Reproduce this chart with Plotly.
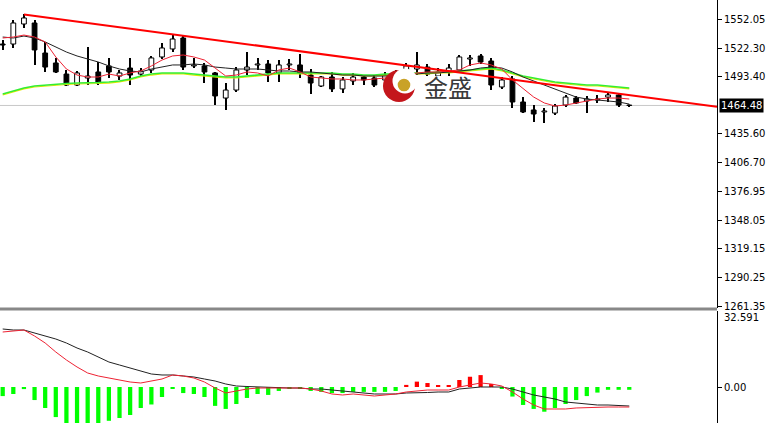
import plotly.graph_objects as go

W, H = 766, 423

# ---------------- data ----------------
open_ = [1526.7, 1526.7, 1547.0, 1548.0, 1517.6, 1507.5, 1496.3, 1485.2, 1492.3, 1498.4,
         1504.5, 1494.3, 1502.4, 1496.3, 1500.4, 1513.6, 1521.7, 1532.8, 1504.5, 1504.5,
         1497.4, 1472.0, 1480.1, 1500.4, 1505.5, 1506.5, 1497.4, 1505.5, 1505.5, 1495.3,
         1484.2, 1493.3, 1481.2, 1489.3, 1493.3, 1492.3, 1490.3, 1496.3, 1498.4, 1501.4,
         1503.4, 1494.3, 1498.4, 1500.4, 1511.5, 1514.6, 1509.5, 1483.2, 1491.3, 1468.0,
         1459.9, 1457.9, 1456.8, 1464.9, 1472.0, 1469.0, 1470.0, 1473.0, 1475.1, 1464.9]
high = [1530.8, 1551.0, 1557.1, 1551.0, 1528.8, 1512.6, 1500.4, 1499.4, 1523.7, 1508.5,
        1512.6, 1500.4, 1512.6, 1502.4, 1514.6, 1527.7, 1535.8, 1535.8, 1512.6, 1507.5,
        1498.4, 1487.2, 1503.4, 1518.6, 1512.6, 1510.5, 1510.5, 1511.5, 1516.6, 1501.4,
        1494.3, 1498.4, 1493.3, 1497.4, 1494.3, 1495.3, 1498.4, 1500.4, 1507.5, 1518.6,
        1506.5, 1502.4, 1506.5, 1515.6, 1515.6, 1516.6, 1512.6, 1493.3, 1494.3, 1473.0,
        1464.9, 1461.9, 1465.9, 1475.1, 1474.1, 1474.1, 1475.1, 1478.1, 1477.1, 1465.4]
low = [1520.7, 1522.7, 1542.9, 1505.5, 1498.4, 1497.4, 1484.2, 1484.2, 1485.2, 1485.2,
       1492.3, 1490.3, 1485.2, 1494.3, 1497.4, 1511.5, 1518.6, 1500.4, 1502.4, 1487.2,
       1464.9, 1459.9, 1478.1, 1495.3, 1500.4, 1488.2, 1488.2, 1500.4, 1492.3, 1476.1,
       1483.2, 1478.1, 1477.1, 1485.2, 1485.2, 1483.2, 1486.2, 1488.2, 1494.3, 1495.3,
       1492.3, 1490.3, 1494.3, 1498.4, 1504.5, 1506.5, 1480.1, 1481.2, 1461.9, 1456.8,
       1447.7, 1446.7, 1454.8, 1462.9, 1465.9, 1456.8, 1467.0, 1468.0, 1462.9, 1463.9]
close = [1525.7, 1548.0, 1553.1, 1520.7, 1503.4, 1498.4, 1485.2, 1497.4, 1494.3, 1487.2,
         1498.4, 1497.4, 1495.3, 1499.4, 1512.6, 1522.7, 1531.8, 1503.4, 1505.5, 1498.4,
         1474.1, 1480.1, 1500.4, 1503.4, 1506.5, 1497.4, 1505.5, 1506.5, 1497.4, 1487.2,
         1493.3, 1481.2, 1490.3, 1493.3, 1490.3, 1485.2, 1495.3, 1492.3, 1504.5, 1505.5,
         1496.3, 1498.4, 1502.4, 1513.6, 1512.6, 1508.5, 1485.2, 1490.3, 1468.0, 1457.9,
         1455.8, 1458.9, 1463.9, 1473.0, 1467.0, 1471.0, 1471.0, 1475.1, 1464.9, 1464.48]

ma_fast = [1532.8, 1533.8, 1535.8, 1533.8, 1528.8, 1513.6, 1501.4, 1495.3, 1493.3, 1493.3,
           1496.3, 1494.3, 1497.4, 1499.4, 1504.5, 1510.5, 1514.6, 1515.6, 1513.6, 1510.5,
           1502.4, 1494.3, 1495.3, 1498.4, 1497.4, 1494.3, 1500.4, 1502.4, 1498.4, 1493.3,
           1492.3, 1491.3, 1491.3, 1490.3, 1490.3, 1491.3, 1492.3, 1493.3, 1495.3, 1497.4,
           1498.4, 1498.4, 1499.4, 1500.4, 1505.5, 1507.5, 1505.5, 1501.4, 1490.3, 1481.2,
           1473.0, 1467.0, 1463.9, 1464.9, 1467.0, 1469.0, 1471.0, 1472.0, 1472.0, 1471.0]
ma_mid = [1533.8, 1532.8, 1534.8, 1532.8, 1528.8, 1523.7, 1518.6, 1514.6, 1511.5, 1508.5,
          1504.5, 1501.4, 1499.4, 1498.4, 1501.4, 1503.4, 1505.5, 1505.5, 1506.5, 1505.5,
          1503.4, 1502.4, 1501.4, 1501.4, 1501.4, 1500.4, 1499.4, 1499.4, 1498.4, 1498.4,
          1497.4, 1496.3, 1495.3, 1495.3, 1494.3, 1494.3, 1494.3, 1494.3, 1495.3, 1496.3,
          1497.4, 1497.4, 1498.4, 1499.4, 1500.4, 1502.4, 1503.4, 1502.4, 1498.4, 1493.3,
          1489.3, 1485.2, 1481.2, 1477.1, 1473.0, 1471.0, 1470.0, 1469.0, 1468.0, 1465.9]
ma_slow = [1476.1, 1479.1, 1482.2, 1484.2, 1485.2, 1486.2, 1486.7, 1487.2, 1487.2, 1487.7,
           1488.2, 1489.3, 1491.3, 1494.3, 1496.3, 1497.4, 1497.4, 1497.4, 1496.3, 1495.3,
           1494.3, 1493.3, 1493.3, 1494.3, 1495.3, 1496.3, 1497.4, 1497.4, 1497.4, 1497.4,
           1497.4, 1497.4, 1496.3, 1496.3, 1495.3, 1495.3, 1496.3, 1496.3, 1497.4, 1497.4,
           1497.4, 1498.4, 1498.4, 1499.4, 1500.4, 1501.4, 1502.4, 1500.4, 1497.4, 1494.3,
           1492.3, 1490.3, 1488.2, 1487.2, 1486.2, 1485.2, 1485.2, 1484.2, 1483.2, 1482.2]
ma_slow2 = [1475.1, 1478.1, 1481.2, 1483.2, 1484.2, 1485.2, 1485.7, 1486.2, 1486.2, 1486.7,
            1487.2, 1488.3, 1490.3, 1493.3, 1495.3, 1496.4, 1496.4, 1496.4, 1495.3, 1494.3,
            1493.3, 1492.3, 1492.3, 1493.3, 1494.3, 1495.3, 1496.4, 1496.4, 1496.4, 1496.4,
            1496.4, 1496.4, 1495.3, 1495.3, 1494.3, 1494.3, 1495.3, 1495.3, 1496.4, 1496.4,
            1496.4, 1497.4, 1497.4, 1498.4, 1499.4, 1500.4, 1501.4, 1499.4, 1496.4, 1493.3,
            1491.3, 1489.3, 1487.2, 1486.2, 1485.2, 1484.2, 1484.2, 1483.2, 1482.2, 1481.2]

macd_hist = [-3.9, -3.0, -0.9, -5.6, -9.0, -12.9, -16.0, -16.0, -16.0, -16.0,
             -14.5, -13.3, -12.0, -9.0, -7.5, -4.3, -0.8, -2.6, -3.0, -4.3,
             -8.1, -9.4, -7.3, -4.7, -3.0, -3.4, -1.7, -0.5, -0.8, -1.7,
             -2.1, -2.6, -2.6, -2.1, -2.1, -2.1, -2.1, -1.7, 0.9, 2.3,
             1.7, 0.7, 0.7, 3.0, 4.4, 5.1, 1.3, -0.5, -4.1, -7.7,
             -9.4, -10.6, -9.0, -7.3, -5.6, -3.9, -2.4, -1.2, -1.2, -1.2]
macd_main = [24.87, 24.44, 24.44, 23.16, 21.87, 20.58, 18.87, 16.72, 15.01, 12.86,
             10.72, 9.43, 8.15, 6.86, 5.57, 5.15, 5.15, 4.72, 4.29, 3.43,
             2.57, 1.29, 0.43, 0.21, 0.0, -0.21, -0.43, -0.43, -0.43, -0.86,
             -0.86, -1.29, -1.72, -2.14, -2.57, -3.00, -3.00, -3.00, -2.57, -2.57,
             -2.36, -2.14, -2.14, -0.86, -0.43, 0.0, 0.0, 0.0, -0.86, -2.14,
             -3.43, -4.29, -5.15, -6.43, -6.86, -7.29, -7.72, -7.72, -7.93, -8.15]
macd_signal = [23.58, 24.01, 24.44, 21.87, 18.87, 15.01, 11.58, 8.58, 6.00, 4.72,
               3.86, 3.00, 2.14, 1.72, 2.57, 3.43, 5.15, 4.72, 3.86, 2.14,
               -0.43, -2.57, -1.72, -0.86, -0.43, -0.43, -0.43, -0.43, -0.43, -0.86,
               -1.72, -3.00, -3.43, -3.00, -3.43, -3.86, -3.43, -3.00, -2.14, -1.72,
               -1.29, -1.29, -1.29, 0.0, 0.86, 1.72, 1.29, 0.43, -2.14, -5.15,
               -7.72, -9.43, -9.43, -9.43, -9.00, -8.79, -8.58, -8.58, -8.58, -8.58]

trend_x = [2, 67.26]
trend_y = [1556.6, 1463.2]

price_ticks = [1552.05, 1522.30, 1493.40, 1435.60, 1406.70, 1376.95,
               1348.05, 1319.15, 1290.25, 1261.35]
last_price = 1464.48
macd_top = 32.591
logo_text = "金盛"

# ---------------- figure ----------------
n = len(close)
xs = list(range(n))
PW = 717  # plot area width in px (axis line at the right edge)
main_bottom = 1 - 308 / H
sub_top = 1 - 311 / H
x_range = [-0.254, 67.26]
price_range = [1259.33, 1571.3]
macd_range = [-15.44, macd_top]

fig = go.Figure()

# wicks
fig.add_trace(go.Bar(
    x=xs, y=[h - l for h, l in zip(high, low)], base=low, width=0.1,
    marker=dict(color="black", line=dict(width=0)),
    xaxis="x", yaxis="y", hoverinfo="skip"))
# bodies
body_base = [min(o, c) for o, c in zip(open_, close)]
body_h = [max(abs(c - o), 0.4) for o, c in zip(open_, close)]
body_col = ["white" if c >= o else "black" for o, c in zip(open_, close)]
fig.add_trace(go.Bar(
    x=xs, y=body_h, base=body_base, width=0.45,
    marker=dict(color=body_col, line=dict(color="black", width=1)),
    xaxis="x", yaxis="y", hoverinfo="skip"))

# MACD histogram
hist_col = ["#ff0000" if v > 0 else "#00ff00" for v in macd_hist]
fig.add_trace(go.Bar(
    x=xs, y=macd_hist, width=0.4, marker=dict(color=hist_col, line=dict(width=0)),
    xaxis="x2", yaxis="y2", hoverinfo="skip"))

# moving averages
fig.add_trace(go.Scatter(x=xs, y=ma_slow2, mode="lines", line=dict(color="#e8e800", width=1.2),
                         xaxis="x", yaxis="y", hoverinfo="skip"))
fig.add_trace(go.Scatter(x=xs, y=ma_slow, mode="lines", line=dict(color="#33ee33", width=1.6),
                         xaxis="x", yaxis="y", hoverinfo="skip"))
fig.add_trace(go.Scatter(x=xs, y=ma_mid, mode="lines", line=dict(color="#222222", width=1),
                         xaxis="x", yaxis="y", hoverinfo="skip"))
fig.add_trace(go.Scatter(x=xs, y=ma_fast, mode="lines", line=dict(color="#ee2233", width=1),
                         xaxis="x", yaxis="y", hoverinfo="skip"))
# trend line
fig.add_trace(go.Scatter(x=trend_x, y=trend_y, mode="lines", line=dict(color="#ff0000", width=2),
                         xaxis="x", yaxis="y", hoverinfo="skip"))
# MACD lines
fig.add_trace(go.Scatter(x=xs, y=macd_main, mode="lines", line=dict(color="#222222", width=1),
                         xaxis="x2", yaxis="y2", hoverinfo="skip"))
fig.add_trace(go.Scatter(x=xs, y=macd_signal, mode="lines", line=dict(color="#ee2233", width=1),
                         xaxis="x2", yaxis="y2", hoverinfo="skip"))

axis_font = dict(family="DejaVu Sans", size=10, color="black")

shapes = [
    # current price line
    dict(type="line", xref="paper", x0=0, x1=1, yref="y", y0=last_price, y1=last_price,
         line=dict(color="#c8c8c8", width=1), layer="below"),
    # separator
    dict(type="line", xref="paper", x0=0, x1=1, yref="paper",
         y0=1 - 309 / H, y1=1 - 309 / H, line=dict(color="#888888", width=3)),
]


def circ(cx, cy, r, color):
    return dict(type="circle", xref="paper", yref="paper",
                x0=(cx - r) / PW, x1=(cx + r) / PW, y0=1 - (cy + r) / H, y1=1 - (cy - r) / H,
                fillcolor=color, line=dict(width=0), layer="above")


# watermark logo: crescent + gold ball, white patch behind the text
shapes += [circ(399, 86, 16, "#c4161c"), circ(405, 81, 12.5, "white"), circ(404, 85, 6.3, "#c9a227"),
           dict(type="rect", xref="paper", yref="paper", x0=422 / PW, x1=475 / PW,
                y0=1 - 99 / H, y1=1 - 76 / H, fillcolor="white", line=dict(width=0), layer="above")]

annotations = [
    dict(xref="paper", yref="y", x=719 / PW, y=last_price, xanchor="left", yanchor="middle",
         text="1464.48", showarrow=False, font=dict(family="DejaVu Sans", size=10, color="white"),
         bgcolor="black", borderpad=1),
    dict(xref="paper", yref="paper", x=722 / PW, y=1 - 310 / H, xanchor="left", yanchor="top",
         text=f"{macd_top:.3f}", showarrow=False, font=axis_font),
    dict(xref="paper", yref="paper", x=448 / PW, y=1 - 87 / H, xanchor="center", yanchor="middle",
         text=logo_text, showarrow=False,
         font=dict(family="Noto Sans CJK SC", size=24, color="#3a3a3a")),
]

fig.update_layout(
    width=W, height=H, margin=dict(l=0, r=W - PW, t=0, b=0, autoexpand=False),
    paper_bgcolor="white", plot_bgcolor="white", showlegend=False, barmode="overlay",
    xaxis=dict(domain=[0, 1], range=x_range, visible=False, anchor="y"),
    yaxis=dict(domain=[main_bottom, 1], range=price_range, side="right", anchor="x",
               automargin=False,
               showgrid=False, zeroline=False, showline=True, linecolor="black", linewidth=1,
               ticks="outside", ticklen=4, tickcolor="black",
               tickvals=price_ticks, ticktext=[f"{v:.2f}" for v in price_ticks],
               tickfont=axis_font),
    xaxis2=dict(domain=[0, 1], range=x_range, visible=False, anchor="y2"),
    yaxis2=dict(domain=[0, sub_top], range=macd_range, side="right", anchor="x2",
                automargin=False,
                showgrid=False, zeroline=False, showline=True, linecolor="black", linewidth=1,
                ticks="outside", ticklen=4, tickcolor="black",
                tickvals=[0], ticktext=["0.00"], tickfont=axis_font),
    shapes=shapes, annotations=annotations,
)

fig.write_html("out.html", config={"displayModeBar": False},
               post_script="document.body.style.margin='0';document.body.style.overflow='hidden';")
